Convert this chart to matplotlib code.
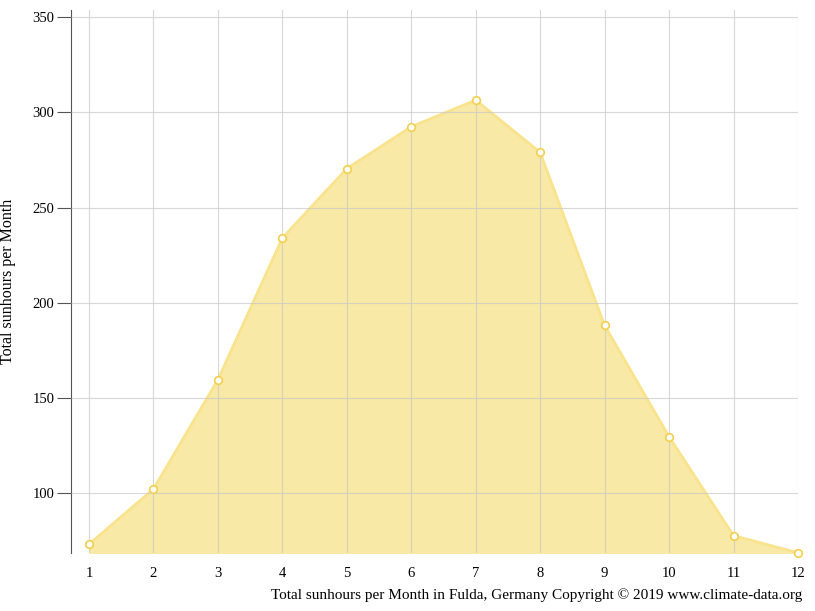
import matplotlib
matplotlib.use("Agg")
import matplotlib.pyplot as plt

months = [1, 2, 3, 4, 5, 6, 7, 8, 9, 10, 11, 12]
sunhours = [73, 102, 159.5, 234, 270.5, 292.5, 306.5, 279, 188, 129.5, 77.5, 68.5]
yticks = [100, 150, 200, 250, 300, 350]

plt.rcParams['font.family'] = ['Liberation Serif', 'DejaVu Serif']
fig = plt.figure(figsize=(8.15, 6.11), dpi=100)
ax = fig.add_axes([0.0871, 0.095, 0.892, 0.889])
ax.set_xlim(0.72, 12)
ax.set_ylim(68.4, 354)
ax.set_axisbelow(False)
ax.fill_between(months, sunhours, 0, color='#f8e9a6', zorder=1, linewidth=0)
ax.grid(True, color='#c8c8c8', lw=0.8, alpha=0.7, zorder=1.5)
ax.plot(months, sunhours, color='#f9e38c', lw=2, zorder=2, clip_on=False)
ax.scatter(months, sunhours, s=30, facecolor='white', edgecolor='#f2d04e', linewidth=1.2, zorder=3, clip_on=False)
ax.set_xticks(months)
ax.set_yticks(yticks)
for s in ['top', 'right', 'bottom']:
    ax.spines[s].set_visible(False)
ax.spines['left'].set_color('#555555')
ax.tick_params(axis='x', length=0, pad=10, labelsize=10.5)
ax.tick_params(axis='y', length=10, direction='out', color='#555555', labelsize=10.5, pad=2)
ax.set_ylabel('Total sunhours per Month', fontsize=11.5)
ax.yaxis.set_label_coords(-0.075, 0.5)
fig.text(0.984, 0.015, 'Total sunhours per Month in Fulda, Germany Copyright © 2019 www.climate-data.org',
         ha='right', va='bottom', fontsize=11)
fig.savefig('out.png', dpi=100)
